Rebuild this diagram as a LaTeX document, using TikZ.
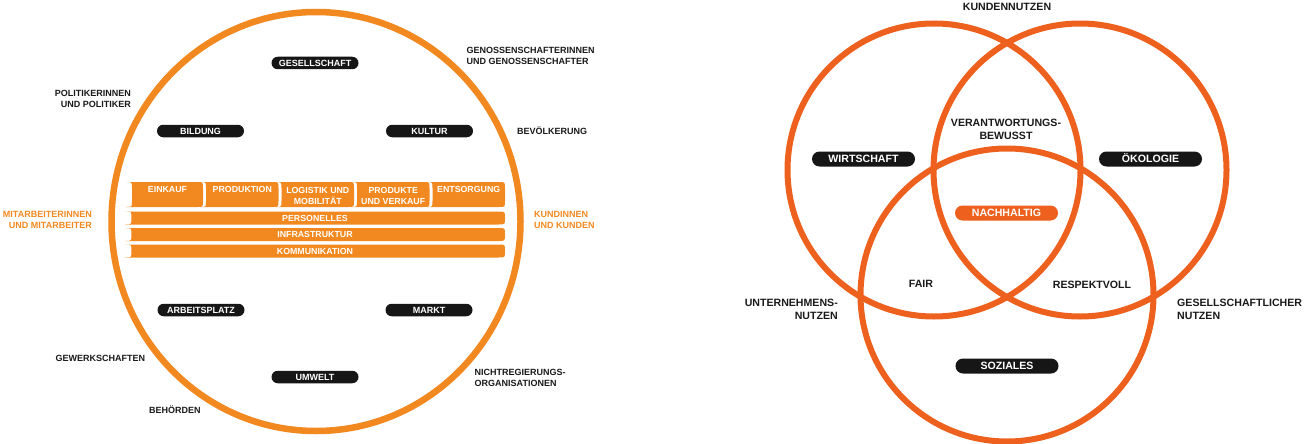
\documentclass[tikz,border=0pt]{standalone}
\usepackage{fontspec}
\setmainfont{Liberation Sans}
\usetikzlibrary{shapes.geometric}
\definecolor{lorange}{RGB}{242,137,32}
\definecolor{rorange}{RGB}{238,96,30}
\definecolor{pillblack}{RGB}{22,22,22}
\definecolor{inktext}{RGB}{26,26,26}
\newcommand{\chainpiece}[5]{%
  \fill[lorange] (#1-#5,#3) -- (#2-#5,#3) .. controls (#2,#3) .. (#2,#3+#5)
    -- (#2,#4-#5) .. controls (#2,#4) .. (#2-#5,#4)
    -- (#1-#5,#4) .. controls (#1,#4) .. (#1,#4-#5)
    -- (#1,#3+#5) .. controls (#1,#3) .. (#1-#5,#3) -- cycle;}
\begin{document}
\begin{tikzpicture}[x=1pt,y=-1pt,
  lbl/.style={font=\fontsize{9}{11}\selectfont\bfseries, inner sep=0pt, text=inktext},
  olbl/.style={lbl, text=lorange},
  rlbl/.style={font=\fontsize{10.6}{12.8}\selectfont\bfseries, inner sep=0pt, text=inktext},
  lpill/.style={fill=pillblack, text=white, rounded corners=6.25pt, minimum width=87pt,
    minimum height=12.5pt, inner sep=0pt, text height=6.4pt, text depth=0pt,
    font=\fontsize{9}{11}\selectfont\bfseries},
  rpill/.style={fill=pillblack, text=white, rounded corners=7.5pt, minimum width=103pt,
    minimum height=15pt, inner sep=0pt, text height=7.6pt, text depth=0pt,
    font=\fontsize{10.6}{12.8}\selectfont\bfseries},
  chaintxt/.style={text=white, font=\fontsize{8.8}{11}\selectfont\bfseries, inner sep=0pt, align=center},
  ring/.style={draw=lorange, line width=6.5pt, ellipse, inner sep=0pt},
  venn/.style={draw=rorange, line width=6pt, circle, minimum size=293pt, inner sep=0pt},
]
\fill[white] (0,0) rectangle (1314,444);
\useasboundingbox (0,0) rectangle (1314,444);

% ---------------- left diagram ----------------
\node[ring, minimum width=409pt, minimum height=419pt] (ring) at (316,221.5) {};

% value chain
\chainpiece{132}{203}{182}{207}{6}
\chainpiece{206}{278.5}{182}{207}{6}
\chainpiece{281.5}{354}{182}{207}{6}
\chainpiece{357}{429.5}{182}{207}{6}
\chainpiece{432.5}{505}{182}{207}{6}
\chainpiece{131.5}{505}{211.5}{224.5}{6.5}
\chainpiece{131.5}{505}{228}{241}{6.5}
\chainpiece{131.5}{505}{244.5}{257.5}{6.5}

\node[chaintxt, anchor=base] (einkauf) at (167.5,192.2) {EINKAUF};
\node[chaintxt, anchor=base] (produktion) at (242.3,192.2) {PRODUKTION};
\node[chaintxt, anchor=north] (logistik) at (317.8,186.8) {LOGISTIK UND\\MOBILITÄT};
\node[chaintxt, anchor=north] (produkte) at (393.2,186.8) {PRODUKTE\\UND VERKAUF};
\node[chaintxt, anchor=base] (entsorgung) at (468.7,192.2) {ENTSORGUNG};
\node[chaintxt, anchor=base] (personelles) at (315,221.2) {PERSONELLES};
\node[chaintxt, anchor=base] (infra) at (315,237.7) {INFRASTRUKTUR};
\node[chaintxt, anchor=base] (komm) at (315,254.2) {KOMMUNIKATION};

% pills
\node[lpill] (gesellschaft) at (315,63) {GESELLSCHAFT};
\node[lpill] (bildung) at (200.5,131) {BILDUNG};
\node[lpill] (kultur) at (429.5,131) {KULTUR};
\node[lpill] (arbeitsplatz) at (201,310) {ARBEITSPLATZ};
\node[lpill] (markt) at (429,310) {MARKT};
\node[lpill] (umwelt) at (315,377) {UMWELT};

% stakeholders
\node[lbl, anchor=north east, align=right] (politik) at (131,89.8) {POLITIKERINNEN\\UND POLITIKER};
\node[lbl, anchor=north west, align=left] (genossen) at (466.5,46.8) {GENOSSENSCHAFTERINNEN\\UND GENOSSENSCHAFTER};
\node[lbl, anchor=base west] (bevoelkerung) at (517,134.2) {BEVÖLKERUNG};
\node[olbl, anchor=north east, align=right] (mitarbeiter) at (92,211.3) {MITARBEITERINNEN\\UND MITARBEITER};
\node[olbl, anchor=north west, align=left] (kunden) at (534,211.3) {KUNDINNEN\\UND KUNDEN};
\node[lbl, anchor=base west] (gewerkschaften) at (55.5,361.2) {GEWERKSCHAFTEN};
\node[lbl, anchor=base west] (behoerden) at (149,413) {BEHÖRDEN};
\node[lbl, anchor=north west, align=left] (ngo) at (474.5,368.8) {NICHTREGIERUNGS-\\ORGANISATIONEN};

% ---------------- right diagram ----------------
\node[venn] (wirtschaftC) at (934,170) {};
\node[venn] (oekologieC) at (1080,170) {};
\node[venn] (sozialesC) at (1007,295) {};

\node[rpill] (wirtschaft) at (863.5,159) {WIRTSCHAFT};
\node[rpill] (oekologie) at (1150.5,159) {ÖKOLOGIE};
\node[rpill] (soziales) at (1007,366) {SOZIALES};
\node[rpill, fill=rorange] (nachhaltig) at (1006.5,213) {NACHHALTIG};

\node[rlbl, anchor=base] (kundennutzen) at (1007,10.8) {KUNDENNUTZEN};
\node[rlbl, anchor=north, align=center] (verantwortung) at (1006,119.2) {VERANTWORTUNGS-\\BEWUSST};
\node[rlbl, anchor=base] (fair) at (921,287.8) {FAIR};
\node[rlbl, anchor=base] (respektvoll) at (1092,288.8) {RESPEKTVOLL};
\node[rlbl, anchor=north east, align=right] (unternehmen) at (838,299.2) {UNTERNEHMENS-\\NUTZEN};
\node[rlbl, anchor=north west, align=left] (gesnutzen) at (1177,299.2) {GESELLSCHAFTLICHER\\NUTZEN};
\end{tikzpicture}
\end{document}
